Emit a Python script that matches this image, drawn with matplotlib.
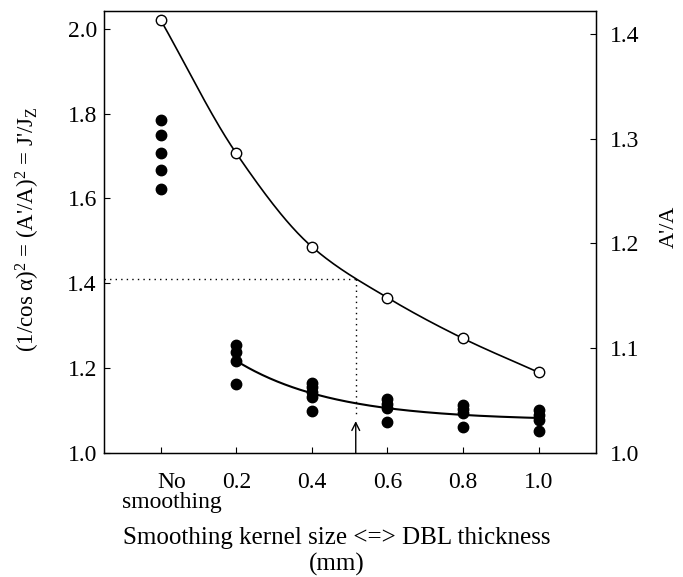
import numpy as np
import matplotlib
matplotlib.use("Agg")
import matplotlib.pyplot as plt

plt.rcParams['font.family'] = ['Liberation Serif', 'DejaVu Serif']
plt.rcParams['mathtext.fontset'] = 'custom'
plt.rcParams['mathtext.rm'] = 'Liberation Serif'
plt.rcParams['mathtext.it'] = 'Liberation Serif'
plt.rcParams['mathtext.bf'] = 'Liberation Serif:bold'

# ---- data ----
kernel_sizes = [0.0, 0.2, 0.4, 0.6, 0.8, 1.0]
tick_labels = ["No\nsmoothing", "0.2", "0.4", "0.6", "0.8", "1.0"]

# open circles
open_values = [2.02, 1.706, 1.486, 1.366, 1.27, 1.19]

# filled dots, per kernel size
dots_0 = [1.784, 1.749, 1.707, 1.667, 1.623]
dots_02 = [1.255, 1.237, 1.216, 1.162]
dots_04 = [1.166, 1.155, 1.143, 1.131, 1.100]
dots_06 = [1.128, 1.116, 1.107, 1.073]
dots_08 = [1.113, 1.104, 1.095, 1.060]
dots_10 = [1.101, 1.089, 1.078, 1.052]
dot_groups = [dots_0, dots_02, dots_04, dots_06, dots_08, dots_10]

ref_y = 1.41
ref_x = 0.516
left_ylim = (1.0, 2.042)
right_ylim = (1.0, 1.422)
right_ticks = [1.0, 1.1, 1.2, 1.3, 1.4]
left_ticks = [1.0, 1.2, 1.4, 1.6, 1.8, 2.0]


def pchip(x, y, xs):
    x = np.asarray(x, float); y = np.asarray(y, float)
    h = np.diff(x); d = np.diff(y) / h
    m = np.zeros_like(y)
    m[0] = d[0]; m[-1] = d[-1]
    for k in range(1, len(x) - 1):
        if d[k - 1] * d[k] > 0:
            w1 = 2 * h[k] + h[k - 1]; w2 = h[k] + 2 * h[k - 1]
            m[k] = (w1 + w2) / (w1 / d[k - 1] + w2 / d[k])
    out = np.empty_like(xs)
    for i, xv in enumerate(xs):
        k = min(np.searchsorted(x, xv, side='right') - 1, len(x) - 2)
        t = (xv - x[k]) / h[k]
        h00 = 2*t**3 - 3*t**2 + 1; h10 = t**3 - 2*t**2 + t
        h01 = -2*t**3 + 3*t**2; h11 = t**3 - t**2
        out[i] = h00*y[k] + h10*h[k]*m[k] + h01*y[k+1] + h11*h[k]*m[k+1]
    return out


def expfit(x, y):
    x = np.asarray(x, float); y = np.asarray(y, float)
    best = None
    for c in np.linspace(0.05, 2.0, 400):
        A = np.column_stack([np.ones_like(x), np.exp(-x / c)])
        coef, *_ = np.linalg.lstsq(A, y, rcond=None)
        r = np.sum((A @ coef - y) ** 2)
        if best is None or r < best[0]:
            best = (r, coef, c)
    _, coef, c = best
    return lambda xs: coef[0] + coef[1] * np.exp(-xs / c)


fig = plt.figure(figsize=(6.83, 5.77), dpi=100)
ax = fig.add_axes([0.152, 0.215, 0.7206, 0.766])

# upper curve through open circles
xs = np.linspace(0, 1.0, 200)
ax.plot(xs, pchip(kernel_sizes, open_values, xs), color='black', lw=1.2, zorder=2)
ax.plot(kernel_sizes, open_values, 'o', mfc='white', mec='black', mew=1.0, ms=7.5, zorder=3)

# filled dots
for xk, grp in zip(kernel_sizes, dot_groups):
    ax.plot([xk] * len(grp), grp, 'o', color='black', ms=7.5, zorder=3)

# lower fitted curve (from 0.2 to 1.0)
means_x = kernel_sizes[1:]
means_y = [np.mean(g) for g in dot_groups[1:]]
f = expfit(means_x, means_y)
xs2 = np.linspace(0.2, 1.0, 200)
ax.plot(xs2, f(xs2), color='black', lw=1.5, zorder=2)

# dotted reference lines
ax.plot([-0.151, ref_x], [ref_y, ref_y], color='black', lw=1.0, ls=(0, (1, 3)), zorder=1)
ax.plot([ref_x, ref_x], [ref_y, 1.088], color='black', lw=1.0, ls=(0, (1, 3)), zorder=1)
ax.annotate('', xy=(ref_x, 1.075), xytext=(ref_x, 1.0),
            arrowprops=dict(arrowstyle='->', color='black', lw=1.0,
                            shrinkA=0, shrinkB=0, mutation_scale=14))

ax.set_xlim(-0.151, 1.152)
ax.set_ylim(*left_ylim)
ax.set_xticks(kernel_sizes)
ax.set_xticklabels([""] + tick_labels[1:], fontsize=17)
# first tick label (two lines), slightly offset to the right as in the original
ax.annotate(tick_labels[0], xy=(kernel_sizes[0], 0), xycoords=('data', 'axes fraction'),
            xytext=(8, -13.5), textcoords='offset points', ha='center', va='top',
            fontsize=17, multialignment='center', linespacing=0.95)
ax.set_yticks(left_ticks)
ax.set_yticklabels([f"{v:.1f}" for v in left_ticks], fontsize=17)
ax.tick_params(axis='y', direction='in', length=4, width=0.8, pad=5)
ax.tick_params(axis='x', direction='in', length=4, width=0.8, pad=14)
for s in ax.spines.values():
    s.set_linewidth(1.0)

ax.set_ylabel(r"(1/cos $\alpha$)$^2$ = (A'/A)$^2$ = J'/J$_\mathrm{Z}$", fontsize=16.5)
ax.yaxis.set_label_coords(-0.126, 0.507)
ax.set_xlabel("Smoothing kernel size <=> DBL thickness\n(mm)", fontsize=18,
              linespacing=1.2)
ax.xaxis.set_label_coords(0.473, -0.168)

ax2 = ax.twinx()
ax2.set_ylim(*right_ylim)
ax2.set_yticks(right_ticks)
ax2.set_yticklabels([f"{v:.1f}" for v in right_ticks], fontsize=17)
ax2.tick_params(direction='in', length=4, width=0.8, pad=10)
ax2.set_ylabel("A'/A", fontsize=16)
ax2.yaxis.set_label_coords(1.13, 0.512)

fig.savefig("out.png", dpi=100)
